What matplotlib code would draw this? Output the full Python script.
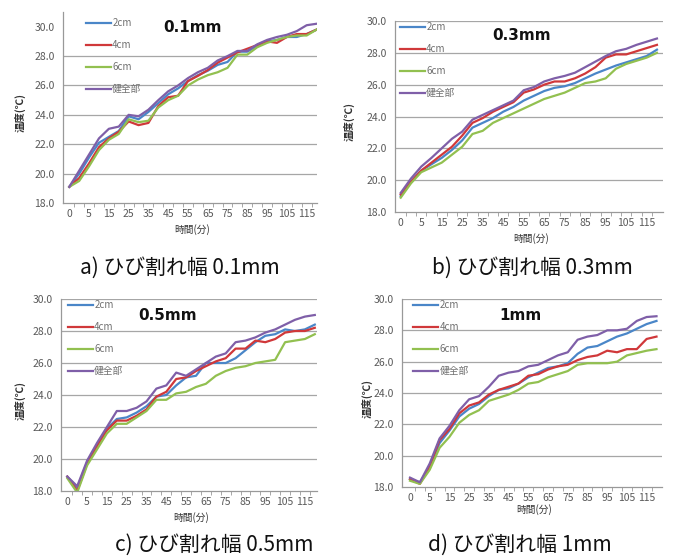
import matplotlib
matplotlib.use("Agg")
import matplotlib.pyplot as plt
import numpy as np

plt.rcParams["font.family"] = ["Noto Sans CJK JP", "DejaVu Sans"]

# time categories (minutes)
times = [0, 3, 5, 10, 15, 20, 25, 30, 35, 40, 45, 50, 55, 60, 65, 70,
         75, 80, 85, 90, 95, 100, 105, 110, 115, 120]
series_names = ["2cm", "4cm", "6cm", "健全部"]
colors = ["#4A86C8", "#D0383A", "#92C050", "#7F5FA8"]

# a) 0.1mm
a_2cm = [19.1, 20.0, 21.1, 22.1, 22.5, 22.9, 23.9, 23.7, 24.2, 24.8, 25.4, 25.8, 26.3,
         26.7, 27.0, 27.4, 27.6, 28.3, 28.3, 28.7, 29.0, 29.1, 29.3, 29.3, 29.5, 29.8]
a_4cm = [19.1, 19.7, 20.7, 21.8, 22.4, 22.85, 23.55, 23.3, 23.45, 24.6, 25.2, 25.3, 26.3,
         26.65, 27.05, 27.55, 27.9, 28.25, 28.5, 28.75, 29.0, 28.9, 29.3, 29.5, 29.5, 29.8]
a_6cm = [19.1, 19.5, 20.5, 21.6, 22.3, 22.7, 23.7, 23.5, 23.6, 24.5, 25.0, 25.3, 26.0,
         26.4, 26.7, 26.9, 27.2, 28.1, 28.1, 28.6, 28.9, 29.1, 29.3, 29.4, 29.4, 29.8]
a_ok = [19.1, 20.2, 21.3, 22.4, 23.05, 23.2, 24.0, 23.9, 24.35, 25.0, 25.6, 26.0, 26.5,
        26.9, 27.2, 27.7, 28.0, 28.35, 28.35, 28.8, 29.1, 29.3, 29.45, 29.7, 30.1, 30.2]

# b) 0.3mm
b_2cm = [19.0, 19.9, 20.6, 21.0, 21.4, 21.9, 22.5, 23.3, 23.6, 23.9, 24.3, 24.6, 25.0,
         25.3, 25.6, 25.8, 25.9, 26.1, 26.4, 26.7, 26.95, 27.2, 27.4, 27.6, 27.8, 28.2]
b_4cm = [19.1, 19.9, 20.6, 21.1, 21.6, 22.1, 22.8, 23.6, 23.9, 24.3, 24.6, 24.9, 25.5,
         25.7, 26.0, 26.2, 26.2, 26.4, 26.7, 27.1, 27.7, 27.9, 27.9, 28.1, 28.3, 28.5]
b_6cm = [18.9, 19.8, 20.5, 20.8, 21.1, 21.6, 22.1, 22.9, 23.1, 23.6, 23.9, 24.2, 24.5,
         24.8, 25.1, 25.3, 25.5, 25.8, 26.1, 26.2, 26.4, 27.0, 27.3, 27.5, 27.7, 28.0]
b_ok = [19.2, 20.1, 20.85, 21.4, 22.0, 22.6, 23.05, 23.8, 24.1, 24.4, 24.7, 25.0, 25.65,
        25.85, 26.2, 26.4, 26.55, 26.75, 27.1, 27.45, 27.8, 28.1, 28.25, 28.5, 28.7, 28.9]

# c) 0.5mm
c_2cm = [18.9, 18.2, 19.8, 20.9, 21.9, 22.5, 22.6, 22.9, 23.3, 23.9, 24.0, 24.6, 25.1,
         25.2, 26.0, 26.0, 26.0, 26.3, 26.8, 27.3, 27.7, 27.8, 28.1, 28.0, 28.1, 28.4]
c_4cm = [18.9, 18.0, 19.7, 20.8, 21.8, 22.4, 22.4, 22.7, 23.1, 23.9, 24.2, 25.0, 25.1,
         25.5, 25.8, 26.1, 26.3, 26.9, 26.9, 27.4, 27.3, 27.5, 27.9, 28.0, 28.0, 28.2]
c_6cm = [18.8, 17.9, 19.6, 20.6, 21.6, 22.2, 22.2, 22.6, 23.0, 23.7, 23.7, 24.1, 24.2,
         24.5, 24.7, 25.2, 25.5, 25.7, 25.8, 26.0, 26.1, 26.2, 27.3, 27.4, 27.5, 27.8]
c_ok = [18.9, 18.3, 19.9, 21.0, 22.0, 23.0, 23.0, 23.2, 23.6, 24.4, 24.6, 25.4, 25.2,
        25.6, 26.0, 26.4, 26.6, 27.3, 27.4, 27.6, 27.9, 28.1, 28.4, 28.7, 28.9, 29.0]

# d) 1mm
d_2cm = [18.5, 18.3, 19.3, 20.8, 21.6, 22.5, 23.0, 23.3, 23.8, 24.2, 24.3, 24.6, 25.0,
         25.3, 25.6, 25.7, 25.9, 26.5, 26.9, 27.0, 27.3, 27.6, 27.8, 28.1, 28.4, 28.6]
d_4cm = [18.5, 18.2, 19.3, 21.0, 21.7, 22.7, 23.2, 23.4, 23.9, 24.2, 24.4, 24.6, 25.1,
         25.2, 25.5, 25.7, 25.8, 26.1, 26.3, 26.4, 26.7, 26.6, 26.8, 26.8, 27.45, 27.6]
d_6cm = [18.4, 18.2, 19.1, 20.5, 21.2, 22.1, 22.6, 22.9, 23.5, 23.7, 23.9, 24.2, 24.6,
         24.7, 25.0, 25.2, 25.4, 25.8, 25.9, 25.9, 25.9, 26.0, 26.4, 26.55, 26.7, 26.8]
d_ok = [18.6, 18.3, 19.5, 21.1, 21.9, 22.9, 23.6, 23.8, 24.4, 25.1, 25.3, 25.4, 25.7,
        25.8, 26.1, 26.4, 26.6, 27.4, 27.6, 27.7, 28.0, 28.0, 28.1, 28.6, 28.85, 28.9]

# layout in pixels: axes box (l, t, r, b), x pixel of first category, pixel step
panels = [
    dict(data=[a_2cm, a_4cm, a_6cm, a_ok], title="0.1mm", caption="a) ひび割れ幅 0.1mm",
         rect=[63, 12, 317, 203], x0=69.3, dx=9.89, ymax=31.0, grid=[20, 22, 24, 26, 28],
         title_xy=(192, 27), ylab_x=20, xlab_y=230, cap_xy=(180, 268), leg=(86, 25)),
    dict(data=[b_2cm, b_4cm, b_6cm, b_ok], title="0.3mm", caption="b) ひび割れ幅 0.3mm",
         rect=[395, 21, 663, 212], x0=400.7, dx=10.25, ymax=30.0, grid=[20, 22, 24, 26, 28, 30],
         title_xy=(522, 35), ylab_x=349, xlab_y=239, cap_xy=(532, 268), leg=(400, 29)),
    dict(data=[c_2cm, c_4cm, c_6cm, c_ok], title="0.5mm", caption="c) ひび割れ幅 0.5mm",
         rect=[61, 299, 317, 491], x0=67.3, dx=9.9, ymax=30.0, grid=[20, 22, 24, 26, 28, 30],
         title_xy=(168, 315), ylab_x=20, xlab_y=518, cap_xy=(214, 545), leg=(68, 307)),
    dict(data=[d_2cm, d_4cm, d_6cm, d_ok], title="1mm", caption="d) ひび割れ幅 1mm",
         rect=[402, 299, 662, 487], x0=410.0, dx=9.86, ymax=30.0, grid=[20, 22, 24, 26, 28, 30],
         title_xy=(520, 315), ylab_x=367, xlab_y=510, cap_xy=(520, 545), leg=(413, 307)),
]

W, H = 673, 556
fig = plt.figure(figsize=(W / 100, H / 100), dpi=100)
grey = "#595959"
x = np.arange(len(times))
labels = [str(t) if i % 2 == 0 else "" for i, t in enumerate(times)]
yticks = [18, 20, 22, 24, 26, 28, 30]

for p in panels:
    l, t, r, b = p["rect"]
    ax = fig.add_axes([l / W, 1 - b / H, (r - l) / W, (b - t) / H])
    for yv in p["grid"]:
        ax.axhline(yv, color="#A6A6A6", lw=0.9, zorder=0)
    for vals, name, c in zip(p["data"], series_names, colors):
        ax.plot(x, vals, color=c, lw=1.6, label=name, zorder=2)
    ax.set_xlim((l - p["x0"]) / p["dx"], (r - p["x0"]) / p["dx"])
    ax.set_ylim(18, p["ymax"])
    ax.set_yticks(yticks)
    ax.set_yticklabels([f"{v:.1f}" for v in yticks])
    ax.set_xticks(x)
    ax.set_xticklabels(labels)
    ax.set_xticks(x[:-1] + 0.5, minor=True)
    ax.tick_params(axis="x", which="major", length=0, pad=4, labelsize=7.5, labelcolor=grey)
    ax.tick_params(axis="x", which="minor", length=3, color="#999999", direction="out")
    ax.tick_params(axis="y", length=0, pad=6, labelsize=7.5, labelcolor=grey)
    for s in ["top", "right"]:
        ax.spines[s].set_visible(False)
    for s in ["left", "bottom"]:
        ax.spines[s].set_color("#999999")
        ax.spines[s].set_linewidth(0.9)

    # legend with big vertical spacing
    lx, ly = p["leg"]
    leg = ax.legend(loc="upper left", bbox_to_anchor=(lx / W, 1 - (ly - 7) / H),
                    bbox_transform=fig.transFigure, frameon=False, fontsize=7,
                    handlelength=2.6, handletextpad=0.1, labelspacing=1.25,
                    borderpad=0, borderaxespad=0)
    for txt in leg.get_texts():
        txt.set_color("#707070")

    tx, ty = p["title_xy"]
    fig.text(tx / W, 1 - ty / H, p["title"], ha="center", va="center",
             fontsize=11, fontweight="bold", family="DejaVu Sans", color="#111111")
    fig.text(p["ylab_x"] / W, 1 - ((t + b) / 2 + 5) / H, "温度(℃)", rotation=90,
             ha="center", va="center", fontsize=7.5, fontweight="bold", color="#333333")
    fig.text(((l + r) / 2 + 2) / W, 1 - p["xlab_y"] / H, "時間(分)", ha="center",
             va="center", fontsize=7, color="#333333")
    cx, cy = p["cap_xy"]
    fig.text(cx / W, 1 - cy / H, p["caption"], ha="center", va="center",
             fontsize=15, color="#111111")

fig.savefig("out.png", dpi=100)
plt.close(fig)
